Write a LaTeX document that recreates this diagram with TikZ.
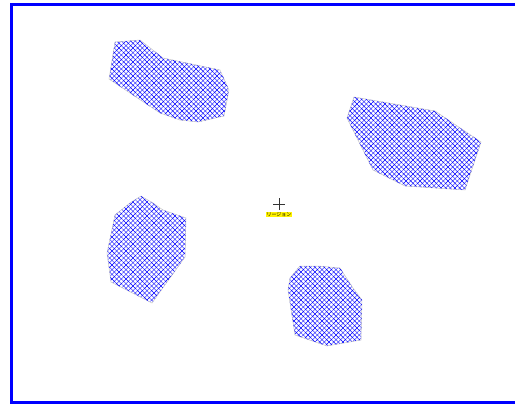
\documentclass[tikz,border=0pt]{standalone}
\usepackage{fontspec}
\newfontfamily\jpfont{Noto Sans CJK JP}
\usetikzlibrary{patterns.meta}

\begin{document}
\begin{tikzpicture}[
  x = 1pt, y = -1pt,
  every node/.style = {font=\jpfont\fontsize{5}{5}\selectfont},
  frame/.style  = {draw=blue, line width=3pt},
  region/.style = {draw=gray!45, line width=0.5pt,
                   pattern={Lines[angle=45,distance=3.3pt,line width=0.45pt]}, pattern color=blue, fill opacity=0.65,
                   postaction={pattern={Lines[angle=-45,distance=3.3pt,line width=0.45pt]}, pattern color=blue, fill opacity=0.65}},
  tag/.style    = {fill=yellow, inner sep=0.7pt, text=black},
  crossline/.style = {draw=black!80, line width=0.5pt}
]
\useasboundingbox (0,0) rectangle (515,405);

% frame, right side runs off the page
\draw[frame] (530,4.5) -- (11.5,4.5) -- (11.5,402.5) -- (530,402.5);

% regions
\path[region] (115,42) -- (140,40) -- (163,58) -- (220,70) -- (229,90) -- (224,116)
  -- (198,122) -- (180,120) -- (160,113) -- (109,79) -- cycle;
\path[region] (354,97) -- (435,111) -- (481,142) -- (465,190) -- (405,186)
  -- (373,170) -- (347,118) -- cycle;
\path[region] (141,196) -- (153,203) -- (163,210) -- (186,218) -- (185,257)
  -- (152,303) -- (111,282) -- (107,253) -- (115,215) -- (130,203) -- cycle;
\path[region] (300,266) -- (318,266) -- (340,268) -- (353,288) -- (362,300)
  -- (361,340) -- (327,346) -- (295,335) -- (288,290) -- (290,278) -- cycle;

% centre mark
\coordinate (centre) at (279,204);
\draw[crossline] ([xshift=-6pt]centre) -- ([xshift=6pt]centre);
\draw[crossline] ([yshift=-6pt]centre) -- ([yshift=6pt]centre);
\node[tag, anchor=north] (label) at ([yshift=-7.5pt]centre) {リージョン};

\end{tikzpicture}
\end{document}
